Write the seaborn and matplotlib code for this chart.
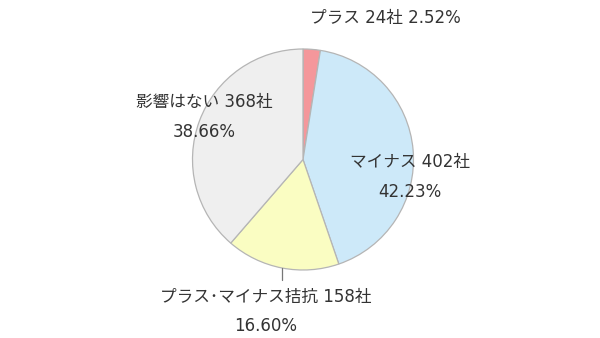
import numpy as np
import matplotlib
matplotlib.use("Agg")
import matplotlib.pyplot as plt
import seaborn as sns

categories = ["プラス", "マイナス", "プラス・マイナス拮抗", "影響はない"]
counts = [24, 402, 158, 368]
percents = ["2.52%", "42.23%", "16.60%", "38.66%"]
colors = ["#f4979b", "#cde9f9", "#fafdc2", "#efefef"]

sns.set_theme(style="white")
plt.rcParams['font.family'] = ['DejaVu Sans', 'Noto Sans CJK JP']

W, H = 600, 338
fig = plt.figure(figsize=(6, 3.38), dpi=100)
ax = fig.add_axes([0, 0, 1, 1])

cx, cy, r = 303, H - 159.5, 110.5
ax.pie(counts, colors=colors, startangle=90, counterclock=False,
       center=(cx, cy), radius=r, frame=True,
       wedgeprops=dict(edgecolor="#b5b5b5", linewidth=0.9))
ax.set_xlim(0, W)
ax.set_ylim(0, H)
ax.set_aspect('equal')
ax.axis('off')

tc = "#333333"
fs = 12
pos = {
    0: [(385, 18, f"{categories[0]} {counts[0]}社 {percents[0]}")],
    1: [(410, 162, f"{categories[1]} {counts[1]}社"), (410, 192, percents[1])],
    2: [(266, 297, f"{categories[2].replace('・', '･')} {counts[2]}社"), (266, 326, percents[2])],
    3: [(204, 102, f"{categories[3]} {counts[3]}社"), (204, 132, percents[3])],
}
for i, items in pos.items():
    for x, y, s in items:
        ax.text(x, H - y, s, ha="center", va="center", fontsize=fs, color=tc)

total = sum(counts)
start = sum(counts[:2]) / total
mid = start + counts[2] / total / 2
ang = np.deg2rad(90 - mid * 360)
x0 = cx + r * np.cos(ang)
y0 = cy + r * np.sin(ang)
ax.plot([x0, x0], [y0, y0 - 12], color="#777777", lw=0.9)

fig.savefig("out.png", dpi=100, facecolor="white")
